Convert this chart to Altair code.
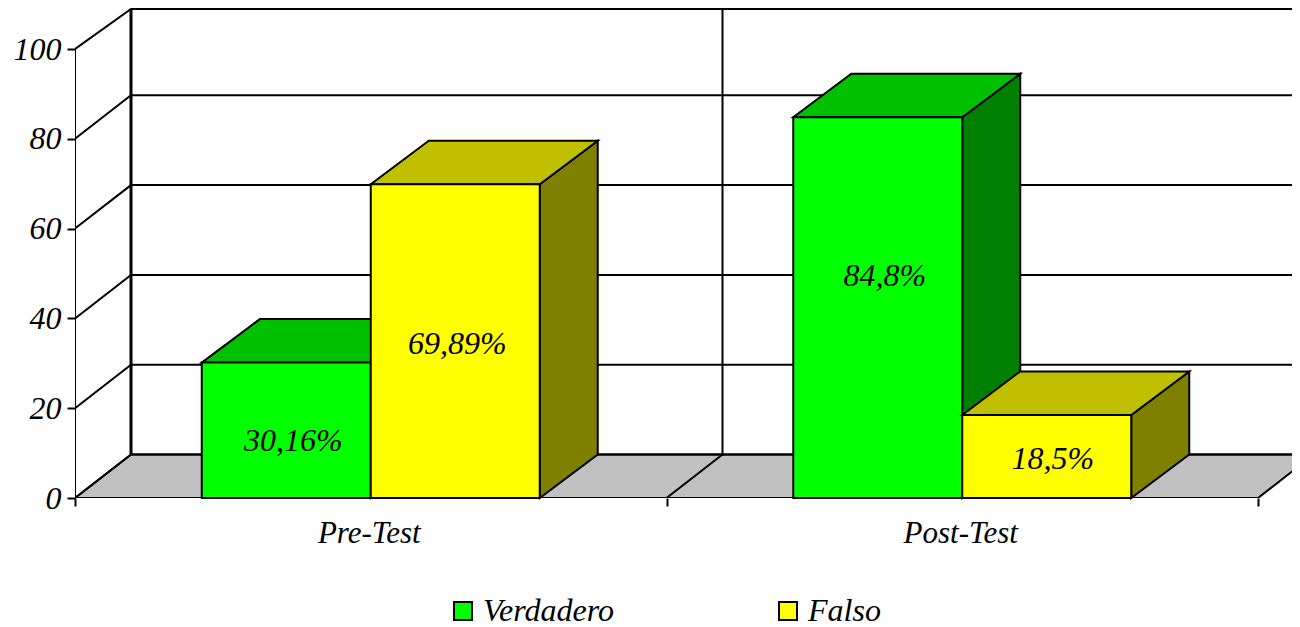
import altair as alt
import pandas as pd

# ---- chart values ----
categories = ["Pre-Test", "Post-Test"]
series = ["Verdadero", "Falso"]
verdadero = [30.16, 84.8]
falso = [69.89, 18.5]
value_labels = [["30,16%", "84,8%"], ["69,89%", "18,5%"]]
y_ticks = [0, 20, 40, 60, 80, 100]

# ---- styles ----
front_colors = ["#00FF00", "#FFFF00"]
top_colors = ["#00C000", "#C0C000"]
side_colors = ["#008000", "#808000"]
floor_color = "#C0C0C0"
FONT = "Liberation Serif"
FS = 31
FS_BIG = 32
SW = 2

# ---- layout (pixels) ----
PX_PER_CAT = 591.5
PX_PER_UNIT = 4.49
VIEW_W = 1217
VIEW_H = 490
WALL_DX = 56 / PX_PER_CAT
BAR_DX = 58 / PX_PER_CAT
DEPTH = 43.5 / PX_PER_UNIT
X_MAX = VIEW_W / PX_PER_CAT
Y_MAX = VIEW_H / PX_PER_UNIT
WALL_TOP = Y_MAX - 1 / PX_PER_UNIT
GAP = 0.2143
BAR_W = (1 - 2 * GAP) / 2
label_offsets = [[(7, 11), (7, -32)], [(2, 3), (6, 3)]]

xs = alt.Scale(domain=[0, X_MAX], nice=False, zero=False)
ys = alt.Scale(domain=[0, Y_MAX], nice=False, zero=False)
N = len(categories)
tick_vals = [v / 2 for v in range(2 * N + 1)]
lab_expr = " : ".join(
    f"datum.value === {i + 0.5} ? '{c}'" for i, c in enumerate(categories)
) + " : ''"
x_axis = alt.Axis(
    values=tick_vals, labelExpr=lab_expr, title=None, grid=False, domain=False,
    tickColor="black", tickWidth=SW, tickSize=8, labelFont=FONT, labelFontStyle="italic",
    labelFontSize=FS, labelColor="black", labelPadding=12, labelOffset=-2, labelOverlap=False,
    labelFlush=False, labelBound=False,
    tickOpacity={"condition": {"test": "datum.value % 1 !== 0", "value": 0}, "value": 1},
)
y_axis = alt.Axis(
    values=y_ticks, title=None, grid=False, domain=False, tickColor="black", tickWidth=SW,
    tickSize=8, labelFont=FONT, labelFontStyle="italic", labelFontSize=FS_BIG,
    labelColor="black", labelPadding=6, labelOverlap=False, labelFlush=False,
)
X = alt.X("x:Q", scale=xs, axis=x_axis)
Y = alt.Y("y:Q", scale=ys, axis=y_axis)


def polyline(points, group=0):
    return [{"x": a, "y": b, "g": group, "o": i} for i, (a, b) in enumerate(points)]


floor = alt.Chart(pd.DataFrame({
    "y": [0, DEPTH], "x": [0, WALL_DX], "x2": [N, N + WALL_DX],
})).mark_area(orient="horizontal", fill=floor_color, stroke="black", strokeWidth=SW, clip=True).encode(
    x=X, x2="x2:Q", y=Y
)

wall_rows = []
g = 0
for v in y_ticks:
    top = WALL_TOP if v == y_ticks[-1] else v + DEPTH
    wall_rows += polyline([(0, v), (WALL_DX, top), (X_MAX, top)], g)
    g += 1
wall_rows += polyline([(0, 0), (0, y_ticks[-1])], g)
g += 1
wall_rows += polyline([(1 + WALL_DX, DEPTH), (1 + WALL_DX, WALL_TOP)], g)
walls = alt.Chart(pd.DataFrame(wall_rows)).mark_line(
    color="black", strokeWidth=SW, clip=True, strokeCap="square"
).encode(x=X, y=Y, detail="g:N", order="o:Q")

back_edge = alt.Chart(pd.DataFrame(polyline([(WALL_DX, DEPTH), (WALL_DX, WALL_TOP)]))).mark_line(
    color="black", strokeWidth=3, clip=True
).encode(x=X, y=Y, detail="g:N", order="o:Q")

floor_rows = []
for k in range(1, N):
    floor_rows += polyline([(k, 0), (k + WALL_DX, DEPTH)], k)
floor_lines = alt.Chart(pd.DataFrame(floor_rows)).mark_line(
    color="black", strokeWidth=SW, clip=True
).encode(x=X, y=Y, detail="g:N", order="o:Q")

layers = [floor, walls, back_edge, floor_lines]
texts = []
color_enc = alt.Color(
    "serie:N",
    scale=alt.Scale(domain=series, range=front_colors),
    legend=alt.Legend(
        title=None, orient="none", legendX=372, legendY=587, columns=2, columnPadding=158,
        symbolType="square", symbolSize=324, symbolStrokeColor="black", symbolStrokeWidth=2,
        labelFont=FONT, labelFontStyle="italic", labelFontSize=FS_BIG, labelColor="black",
        labelOffset=4, symbolOpacity=1, labelLimit=300,
    ),
)

for c in range(N):
    for s, vals in enumerate([verdadero, falso]):
        val = vals[c]
        x0 = c + GAP + s * BAR_W
        x1 = x0 + BAR_W
        side = alt.Chart(pd.DataFrame({
            "x": [x1, x1 + BAR_DX], "y": [val, val + DEPTH], "y2": [0, DEPTH],
        })).mark_area(orient="vertical", fill=side_colors[s], stroke="black", strokeWidth=SW).encode(
            x=X, y=Y, y2="y2:Q"
        )
        top = alt.Chart(pd.DataFrame({
            "y": [val, val + DEPTH], "x": [x0, x0 + BAR_DX], "x2": [x1, x1 + BAR_DX],
        })).mark_area(orient="horizontal", fill=top_colors[s], stroke="black", strokeWidth=SW).encode(
            x=X, x2="x2:Q", y=Y
        )
        front = alt.Chart(pd.DataFrame({
            "x": [x0], "x2": [x1], "y": [0], "y2": [val], "serie": [series[s]],
        })).mark_rect(stroke="black", strokeWidth=SW).encode(
            x=X, x2="x2:Q", y=Y, y2="y2:Q", color=color_enc
        )
        layers += [side, top, front]
        ox, oy = label_offsets[s][c]
        texts.append(
            alt.Chart(pd.DataFrame({
                "x": [(x0 + x1) / 2], "y": [val / 2], "t": [value_labels[s][c]],
            })).mark_text(
                font=FONT, fontStyle="italic", fontSize=FS_BIG, color="black",
                align="center", baseline="middle", dx=ox, dy=oy,
            ).encode(x=X, y=Y, text="t:N")
        )

chart = alt.layer(*layers, *texts).properties(
    width=VIEW_W, height=VIEW_H,
    padding={"left": 67, "top": 0, "right": 0, "bottom": 129},
    autosize=alt.AutoSizeParams(type="none"),
).configure_view(stroke=None)

chart.save("out.html", embed_options={"renderer": "svg", "actions": False})
